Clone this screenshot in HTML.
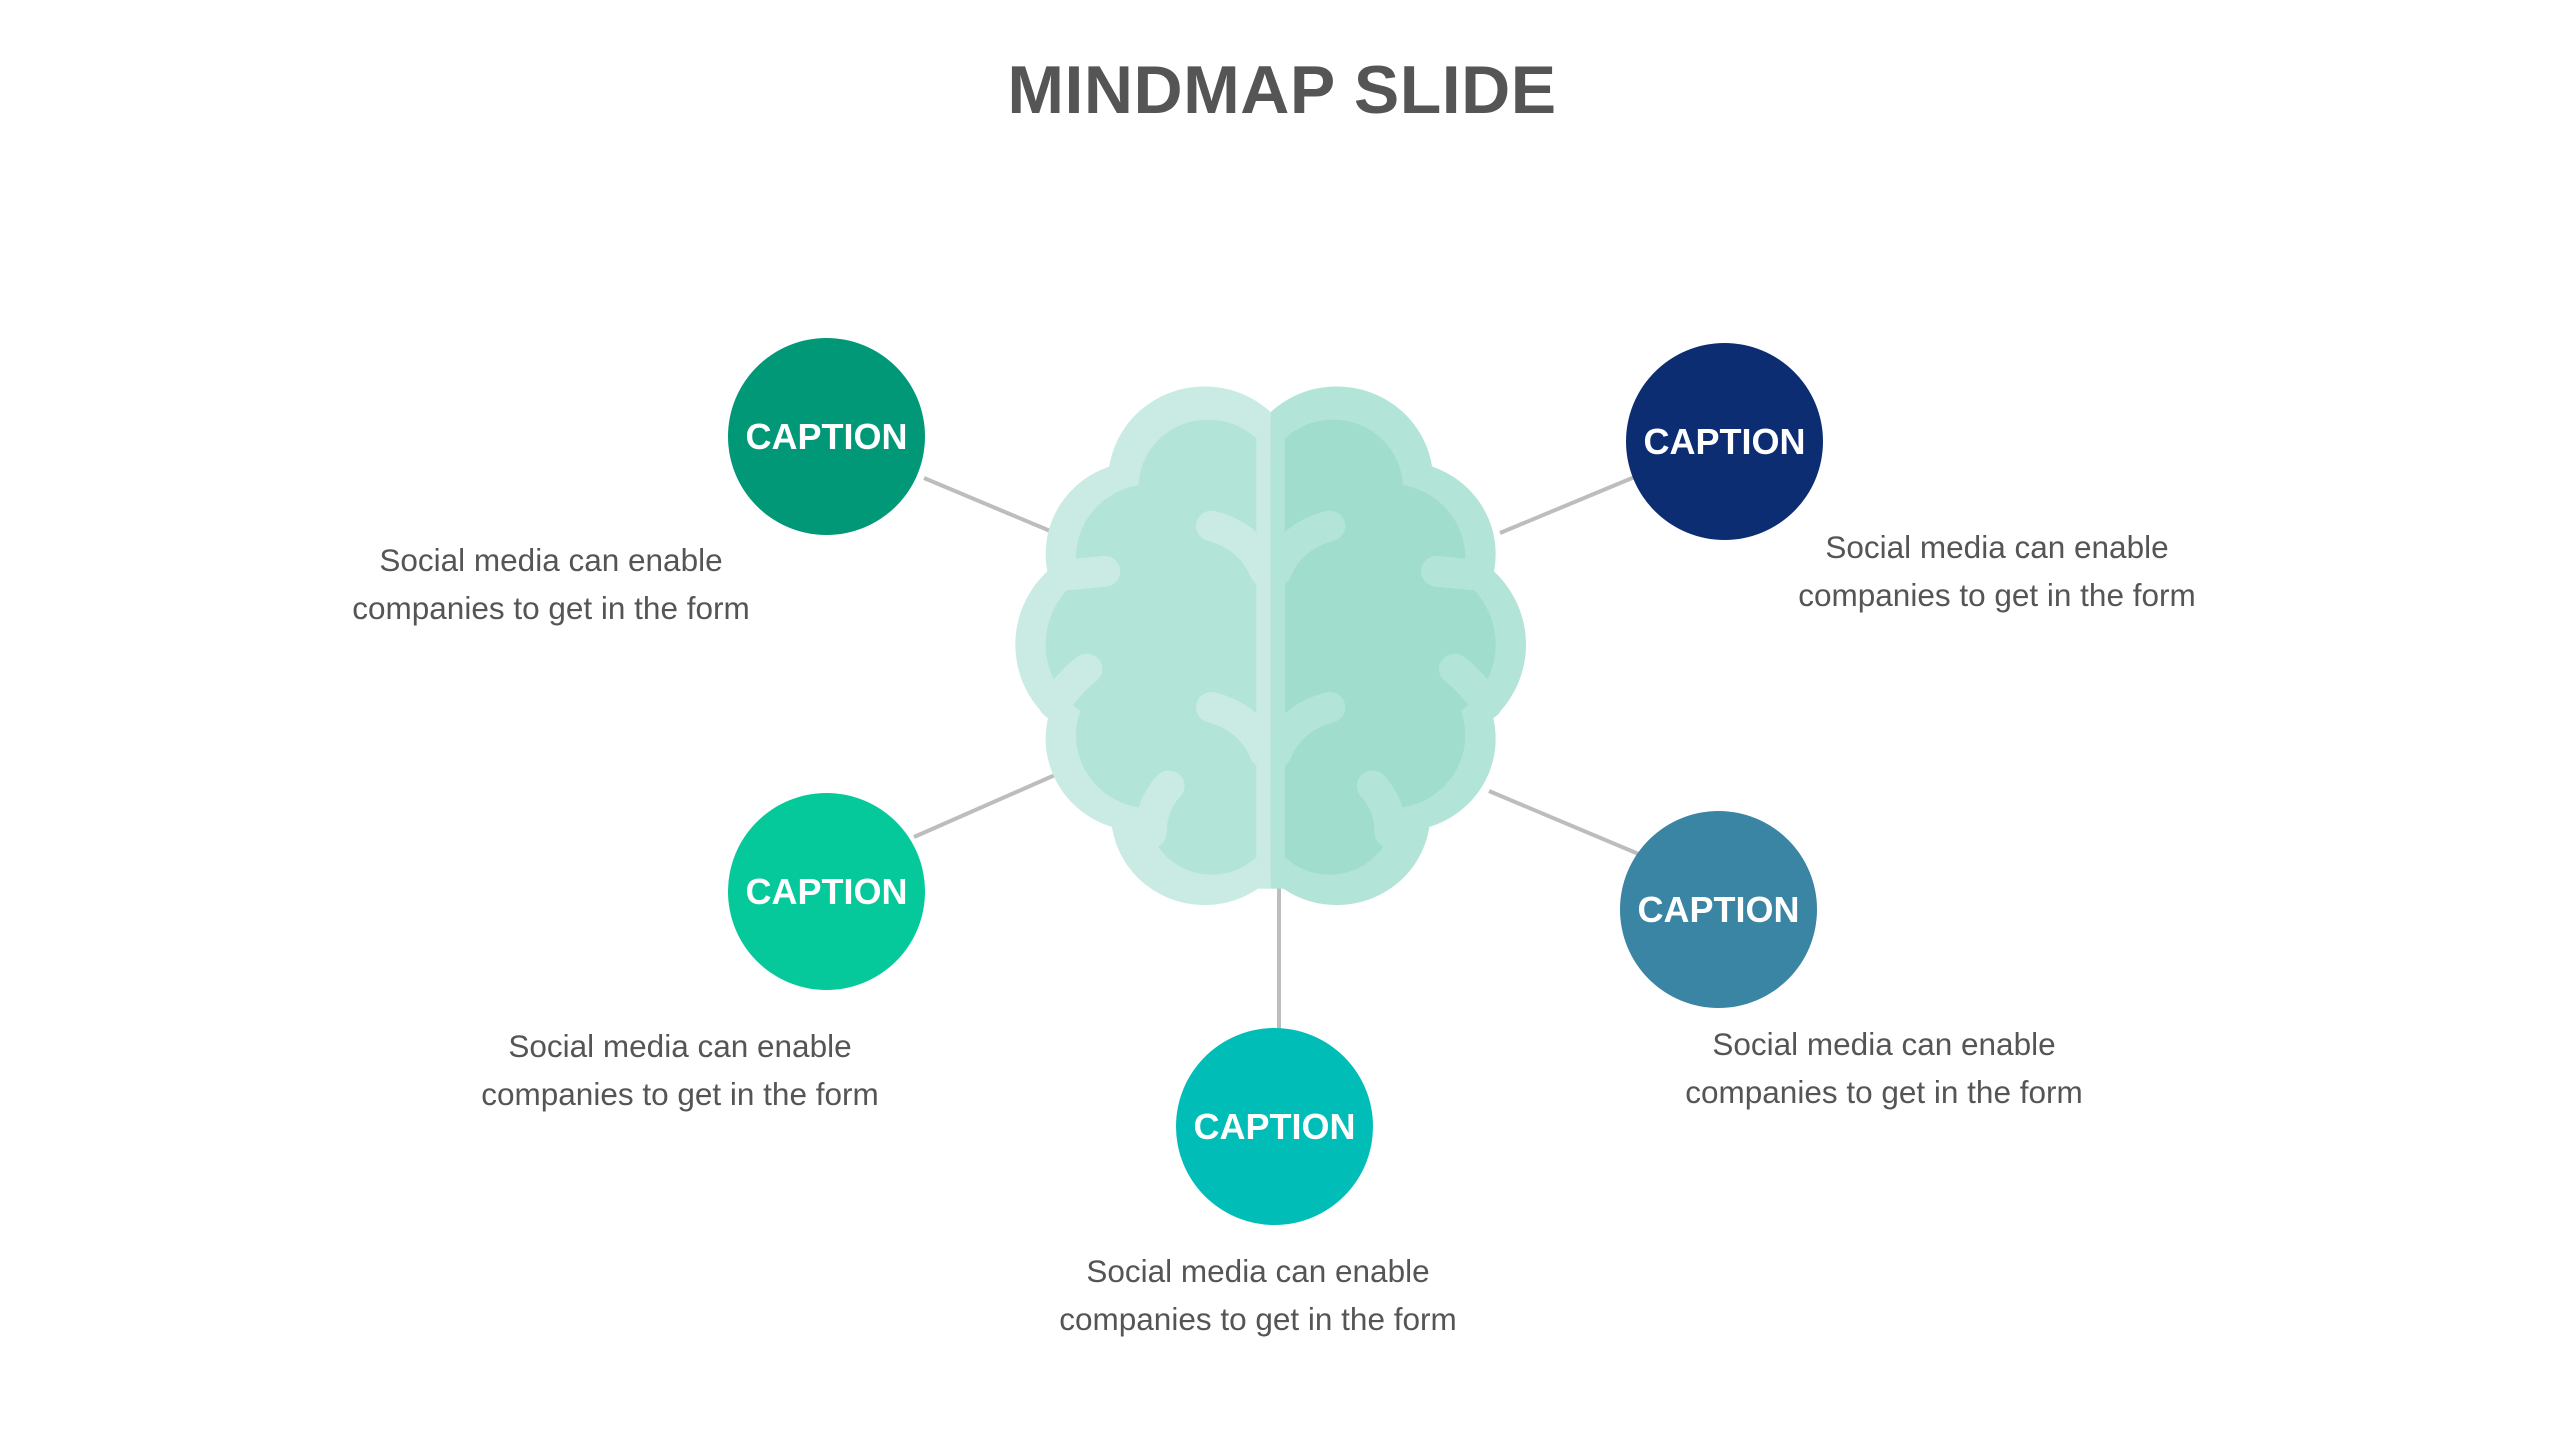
<!DOCTYPE html>
<html><head><meta charset="utf-8"><style>
html,body{margin:0;padding:0;background:#fff;}
body{width:2559px;height:1440px;position:relative;overflow:hidden;font-family:"Liberation Sans",sans-serif;}
.title{position:absolute;left:0;width:2564px;top:51px;text-align:center;font-size:68px;font-weight:bold;color:#555;letter-spacing:0.5px;}
.c{position:absolute;width:197px;height:197px;border-radius:50%;color:#fff;font-weight:bold;font-size:36px;display:flex;align-items:center;justify-content:center;}
.t{position:absolute;width:600px;text-align:center;font-size:31.5px;line-height:48px;color:#555;}
</style></head><body>
<div class="title">MINDMAP SLIDE</div>
<svg style="position:absolute;left:0;top:0" width="2559" height="1440">
<g stroke="#bdbdbd" stroke-width="4">
<line x1="924" y1="478" x2="1055" y2="533"/>
<line x1="1637" y1="476" x2="1500" y2="533"/>
<line x1="914" y1="837" x2="1055" y2="775"/>
<line x1="1641" y1="855" x2="1489" y2="791"/>
<line x1="1279" y1="880" x2="1279" y2="1031"/>
</g>
</svg>
<svg style="position:absolute;left:1001px;top:376px" width="560" height="565" viewBox="0 0 1568 1620" preserveAspectRatio="none">
<defs>
<clipPath id="L"><rect x="0" y="0" width="755" height="1620"/></clipPath>
<g id="outer">
<circle cx="570" cy="300" r="270"/><circle cx="390" cy="510" r="265"/><circle cx="330" cy="770" r="290"/><circle cx="390" cy="1040" r="265"/><circle cx="570" cy="1255" r="262"/><rect x="390" y="300" width="380" height="960"/>
</g>
<g id="inner">
<circle cx="580" cy="320" r="195"/><circle cx="420" cy="520" r="210"/><circle cx="360" cy="770" r="235"/><circle cx="420" cy="1030" r="210"/><circle cx="590" cy="1250" r="180"/><rect x="420" y="320" width="295" height="930"/>
</g>
<g id="br" fill="none" stroke-width="88" stroke-linecap="round">
<path d="M290,560 L190,570"/><path d="M240,840 Q190,880 150,940"/><path d="M470,1175 Q420,1230 420,1310"/><path d="M590,430 Q700,460 740,560"/><path d="M590,950 Q700,980 740,1080"/>
</g>
</defs>
<g clip-path="url(#L)">
<use href="#outer" fill="#c9ebe3"/><use href="#inner" fill="#b2e4d8"/><use href="#br" stroke="#c9ebe3"/>
<rect x="715" y="120" width="45" height="1350" fill="#c9ebe3"/>
</g>
<g transform="translate(1510,0) scale(-1,1)">
<g clip-path="url(#L)">
<use href="#outer" fill="#b2e4d8"/><use href="#inner" fill="#a0ddcd"/><use href="#br" stroke="#b2e4d8"/>
<rect x="715" y="120" width="45" height="1350" fill="#b2e4d8"/>
</g>
</g>
</svg>
<div class="c" style="left:728px;top:338px;background:#009877">CAPTION</div>
<div class="c" style="left:1626px;top:343px;background:#0d2d73">CAPTION</div>
<div class="c" style="left:728px;top:793px;background:#05c99a">CAPTION</div>
<div class="c" style="left:1620px;top:811px;background:#3a84a4">CAPTION</div>
<div class="c" style="left:1176px;top:1028px;background:#00bdb8">CAPTION</div>
<div class="t" style="left:251px;top:536px">Social media can enable<br>companies to get in the form</div>
<div class="t" style="left:1697px;top:523px">Social media can enable<br>companies to get in the form</div>
<div class="t" style="left:380px;top:1022px">Social media can enable<br>companies to get in the form</div>
<div class="t" style="left:1584px;top:1020px">Social media can enable<br>companies to get in the form</div>
<div class="t" style="left:958px;top:1247px">Social media can enable<br>companies to get in the form</div>
</body></html>
